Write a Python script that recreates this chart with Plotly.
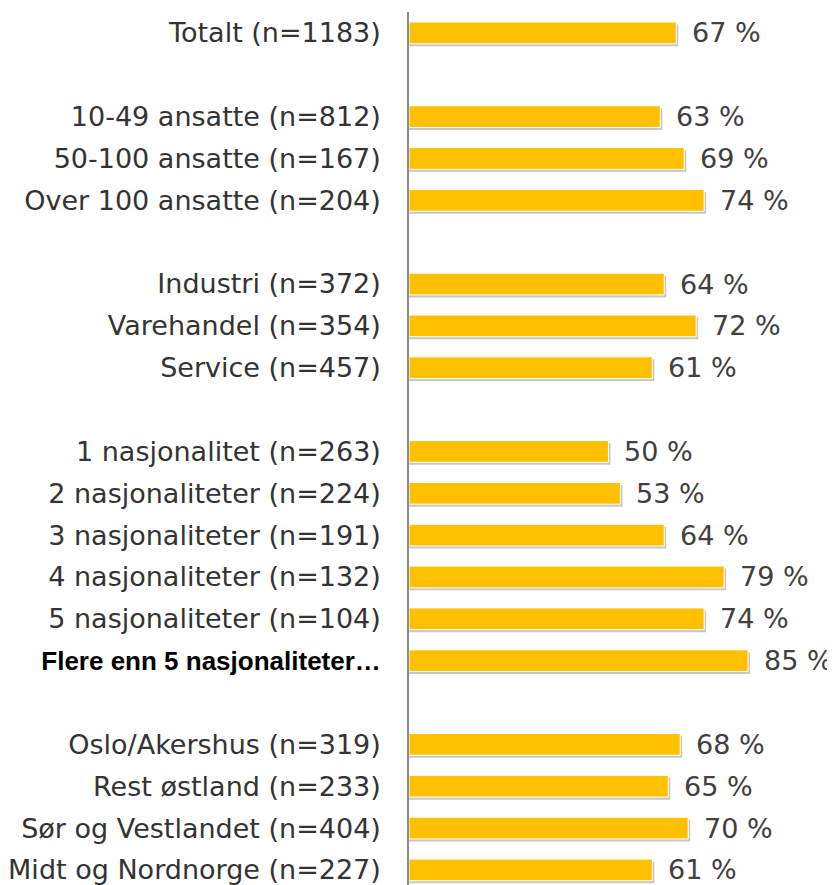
import plotly.graph_objects as go

categories = [
    "Totalt (n=1183)", " ",
    "10-49 ansatte (n=812)", "50-100 ansatte (n=167)", "Over 100 ansatte (n=204)", "  ",
    "Industri (n=372)", "Varehandel (n=354)", "Service (n=457)", "   ",
    "1 nasjonalitet (n=263)", "2 nasjonaliteter (n=224)", "3 nasjonaliteter (n=191)",
    "4 nasjonaliteter (n=132)", "5 nasjonaliteter (n=104)",
    "<span style=\"font-family:'Liberation Sans';font-size:26px;fill:#000000\"><b>Flere enn 5 nasjonaliteter…</b></span>",
    "    ",
    "Oslo/Akershus (n=319)", "Rest østland (n=233)", "Sør og Vestlandet (n=404)", "Midt og Nordnorge (n=227)",
]
values = [67, None, 63, 69, 74, None, 64, 72, 61, None, 50, 53, 64, 79, 74, 85, None, 68, 65, 70, 61]

cats = [c for c, v in zip(categories, values) if v is not None]
vals = [v for v in values if v is not None]

FONT = "DejaVu Sans"
fig = go.Figure()

# shadow
fig.add_trace(go.Bar(
    y=cats, x=[v + 0.5 for v in vals], orientation="h",
    width=0.52, offset=-0.2,
    marker=dict(color="rgba(0,0,0,0.22)", line=dict(width=0)),
    hoverinfo="skip", showlegend=False,
))
# bars
fig.add_trace(go.Bar(
    y=cats, x=vals, orientation="h",
    width=0.52, offset=-0.26,
    marker=dict(color="#FFC000", line=dict(color="white", width=1)),
    showlegend=False,
))

# value labels
for c, v in zip(cats, vals):
    fig.add_annotation(
        x=v, y=c, xref="x", yref="y", text=f"{v} %", showarrow=False,
        xanchor="left", yanchor="middle", xshift=14, yshift=0,
        font=dict(family=FONT, size=27, color="#404040"),
    )

fig.update_layout(
    width=827, height=877,
    margin=dict(l=401, r=0, t=4, b=0, autoexpand=False),
    paper_bgcolor="white", plot_bgcolor="white",
    barmode="overlay",
    xaxis=dict(range=[0, 106.8], visible=False, showgrid=False, zeroline=False, automargin=False),
    yaxis=dict(
        type="category", categoryorder="array", categoryarray=categories,
        range=[20.36, -0.5], showgrid=False, zeroline=False, automargin=False,
        showline=True, linecolor="#8c8c8c", linewidth=1.5,
        ticks="", ticklabelstandoff=21,
        tickfont=dict(family=FONT, size=27, color="#333333"),
        tickvals=categories,
    ),
)

fig.write_html("out.html")
